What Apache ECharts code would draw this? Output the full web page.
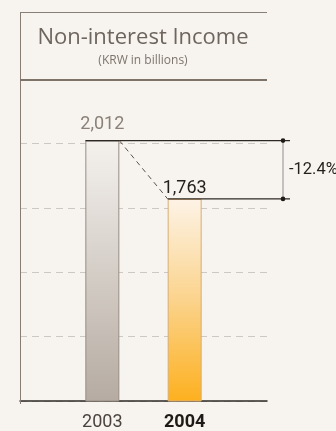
<!DOCTYPE html>
<html>
<head>
<meta charset="utf-8">
<script src="https://cdn.jsdelivr.net/npm/echarts@6/dist/echarts.min.js"></script>
<style>
  html, body { margin: 0; padding: 0; background: #f7f4ef; }
  #chart { width: 336px; height: 431px; }
</style>
</head>
<body>
<div id="chart"></div>
<script>
// ---- data ----
const titleText = 'Non-interest Income';
const subtitleText = '(KRW in billions)';
const categories = ['', '2003', '2004', ''];
const values = [null, 2012, 1763, null];
const valueLabels = ['', '2,012', '1,763', ''];
const changeLabel = '-12.4%';
const axisMin = 900;
const axisMax = 2275;
const axisStep = 275;

const numFont = 'Roboto, "Noto Sans", sans-serif';
const textFont = '"Open Sans", "Noto Sans", sans-serif';

const chart = echarts.init(document.getElementById('chart'), null, { renderer: 'canvas' });

const barStyles = [
  null,
  {
    color: new echarts.graphic.LinearGradient(0, 0, 0, 1, [
      { offset: 0, color: '#f4f1ed' },
      { offset: 1, color: '#b5aba2' }
    ]),
    borderColor: '#978d84',
    borderWidth: 1
  },
  {
    color: new echarts.graphic.LinearGradient(0, 0, 0, 1, [
      { offset: 0, color: '#fdf3e6' },
      { offset: 0.5, color: '#fbd38c' },
      { offset: 1, color: '#fdb01f' }
    ]),
    borderColor: '#d6ad74',
    borderWidth: 1
  },
  null
];
const labelStyles = [null,
  { color: '#8a8078', distance: 7 },
  { color: '#231f1c', distance: 1 },
  null];

const barData = values.map((v, i) => v == null ? null : {
  value: v,
  itemStyle: barStyles[i],
  label: Object.assign({ show: true, position: 'top',
    fontSize: 18, fontFamily: numFont, formatter: valueLabels[i] }, labelStyles[i])
});

const catData = categories.map((c, i) => ({
  value: c,
  textStyle: i === 2
    ? { color: '#1e1a17', fontWeight: 'bold', fontSize: 18, fontFamily: numFont }
    : { color: '#4b433d', fontSize: 18, fontFamily: numFont }
}));

const option = {
  backgroundColor: '#f7f4ef',
  animation: false,
  title: {
    text: titleText,
    subtext: subtitleText,
    left: 143,
    top: 27,
    padding: 0,
    textAlign: 'center',
    itemGap: 6,
    textStyle: { fontFamily: textFont, fontSize: 22, fontWeight: 'normal', color: '#6e655e' },
    subtextStyle: { fontFamily: textFont, fontSize: 12, color: '#7d746c' }
  },
  grid: { left: 20, right: 69, top: 79, bottom: 27, containLabel: false },
  xAxis: {
    type: 'category',
    data: catData,
    boundaryGap: false,
    axisLine: { lineStyle: { color: '#2e2824', width: 1.5 } },
    axisTick: { show: false },
    axisLabel: { margin: 12, interval: 0 },
    splitLine: { show: false }
  },
  yAxis: {
    type: 'value',
    min: axisMin,
    max: axisMax,
    interval: axisStep,
    axisLine: { show: false },
    axisTick: { show: false },
    axisLabel: { show: false },
    splitLine: { lineStyle: { color: '#cdc8c2', type: [7, 5], width: 1 } }
  },
  graphic: [
    { type: 'line', shape: { x1: 20.5, y1: 12, x2: 20.5, y2: 404 }, style: { stroke: '#867c73', lineWidth: 1 }, z: 100 },
    { type: 'line', shape: { x1: 20, y1: 12.5, x2: 267, y2: 12.5 }, style: { stroke: '#8a8078', lineWidth: 1 }, z: 100 },
    { type: 'rect', shape: { x: 20, y: 79, width: 247, height: 2 }, style: { fill: '#7d7369' }, z: 100 }
  ],
  series: [
    {
      type: 'bar',
      data: barData,
      barWidth: 34,
      z: 2
    },
    {
      type: 'custom',
      z: 10,
      clip: false,
      silent: true,
      data: [[1, values[1], 2, values[2]]],
      renderItem: function (params, api) {
        const p1 = api.coord([api.value(0), api.value(1)]);
        const p2 = api.coord([api.value(2), api.value(3)]);
        const hw = 17;
        const cs = params.coordSys;
        const xr = cs.x + cs.width + 23;
        const xv = xr - 7;
        return {
          type: 'group',
          children: [
            { type: 'line', shape: { x1: p1[0] - hw, y1: p1[1], x2: xr, y2: p1[1] }, style: { stroke: '#2e2824', lineWidth: 1.3 } },
            { type: 'line', shape: { x1: p2[0] - hw, y1: p2[1], x2: xr, y2: p2[1] }, style: { stroke: '#2e2824', lineWidth: 1.3 } },
            { type: 'line', shape: { x1: p1[0] + hw, y1: p1[1], x2: p2[0] - hw, y2: p2[1] }, style: { stroke: '#5a524c', lineWidth: 1, lineDash: [5, 4] } },
            { type: 'line', shape: { x1: xv, y1: p1[1], x2: xv, y2: p2[1] }, style: { stroke: '#8f8f8f', lineWidth: 1 } },
            { type: 'circle', shape: { cx: xv, cy: p1[1], r: 2.3 }, style: { fill: '#1f1a17' } },
            { type: 'circle', shape: { cx: xv, cy: p2[1], r: 2.3 }, style: { fill: '#1f1a17' } },
            { type: 'text', style: { text: changeLabel, x: xv + 6, y: (p1[1] + p2[1]) / 2, verticalAlign: 'middle', align: 'left',
              fontSize: 16.5, fontFamily: numFont, fill: '#231f1c' } }
          ]
        };
      }
    }
  ]
};
chart.setOption(option);
</script>
</body>
</html>
